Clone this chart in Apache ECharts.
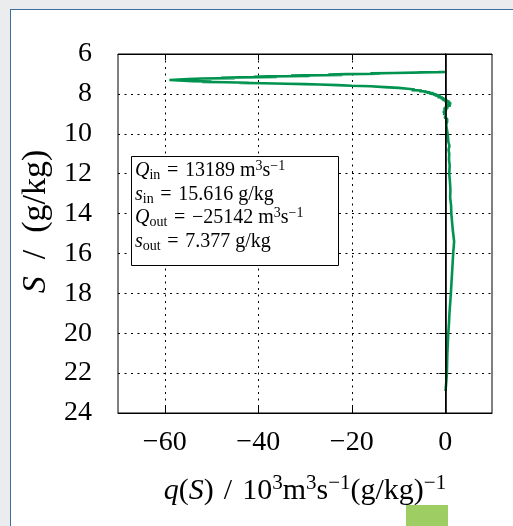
<!DOCTYPE html>
<html>
<head>
<meta charset="utf-8">
<script src="https://cdn.jsdelivr.net/npm/echarts@6/dist/echarts.min.js"></script>
<style>
  html, body { margin: 0; padding: 0; width: 513px; height: 526px; overflow: hidden; background: #ebeced; }
  #panel { position: absolute; left: 10px; top: 9px; width: 510px; height: 520px; background: #ffffff;
           border-left: 1px solid #3b6f9f; border-top: 1px solid #3b6f9f; }
  #tab { position: absolute; left: 406px; top: 505px; width: 42px; height: 21px; background: #9ecd63; }
  #chart { position: absolute; left: 0; top: 0; width: 513px; height: 526px; z-index: 2; }
</style>
</head>
<body>
<div id="panel"></div>
<div id="tab"></div>
<div id="chart"></div>
<script>
// Salinity classes S (g/kg) and the transport density q(S) (10^3 m^3 s^-1 per g/kg)
const salinity = [
  6.90, 6.91, 6.93, 6.92, 6.95, 6.97, 6.99, 7.01, 7.03, 7.05, 7.07, 7.08, 7.10, 7.12, 7.14, 7.15,
  7.17, 7.19, 7.21, 7.23, 7.26, 7.28, 7.30, 7.33, 7.36, 7.38, 7.40, 7.42, 7.44, 7.45, 7.47, 7.49,
  7.51, 7.53, 7.56, 7.59, 7.62, 7.66, 7.70, 7.74, 7.78, 7.81, 7.83, 7.86, 7.88, 7.90, 7.92, 7.94,
  7.96, 7.98, 8.00, 8.02, 8.04, 8.06, 8.08, 8.10, 8.12, 8.14, 8.16, 8.18, 8.20, 8.23, 8.25, 8.28,
  8.30, 8.33, 8.35, 8.38, 8.40, 8.43, 8.45, 8.48, 8.50, 8.53, 8.55, 8.58, 8.60, 8.63, 8.65, 8.68,
  8.70, 8.73, 8.75, 8.78, 8.80, 8.85, 8.90, 8.95, 9.00, 9.05, 9.10, 9.15, 9.20, 9.25, 9.30, 9.40,
  9.45, 9.50, 9.55, 9.60, 9.70, 9.80, 9.85, 9.90, 10.0, 10.1, 10.2, 10.3, 10.4, 10.6, 10.8, 11.0,
  11.3, 11.6, 12.0, 12.4, 12.8, 13.2, 13.6, 14.0, 14.4, 14.8, 15.1, 15.4, 15.7, 16.0, 16.4, 16.8,
  17.2, 17.6, 18.0, 18.5, 19.0, 19.5, 20.0, 20.5, 21.0, 21.5, 22.0, 22.5, 22.9
];
const transport = [
  0.0, -1.5, -6, -4, -11, -16, -14, -21, -25, -22, -30, -33, -29, -38, -41, -36,
  -44, -48, -45, -52, -55, -57, -59, -57, -54, -50, -52, -47, -42, -44, -39, -34,
  -30, -27, -23, -20, -16, -13, -10, -8, -6.5, -7.2, -5, -5.6, -4, -4.6, -3.2, -4.0,
  -2.5, -3.4, -2.8, -1.9, -2.6, -1.5, -2.2, -1.0, -1.8, -0.9, -1.6, -0.5, -1.1, -0.2, -0.8, 0.3,
  -0.6, 0.5, -0.2, 0.9, 0.2, 1.1, 0.3, 1.3, 0.4, 1.0, 0.2, 1.2, 0.5, 0.9, 0.0, 0.7,
  -0.2, 0.5, -0.4, 0.4, -0.3, 0.3, -0.5, 0.2, -0.4, 0.1, -0.3, 0.3, -0.1, 0.4, 0.0, 0.4,
  0.1, 0.5, 0.2, 0.6, 0.3, 0.7, 0.4, 0.6, 0.5, 0.75, 0.6, 0.8, 0.65, 0.9, 0.7, 0.85,
  0.8, 0.95, 0.85, 1.0, 1.1, 1.05, 1.25, 1.3, 1.45, 1.6, 1.75, 1.9, 1.8, 1.7, 1.6, 1.5,
  1.4, 1.3, 1.2, 1.05, 0.9, 0.8, 0.65, 0.55, 0.45, 0.4, 0.35, 0.2, 0.05
];

// Tick positions
const qTicks = [-60, -40, -20, 0];
const sTicks = [6, 8, 10, 12, 14, 16, 18, 20, 22, 24];

// Bulk values listed in the text box
const bulkLines = [
  ['Q', 'in', '13189 m', true],
  ['s', 'in', '15.616 g/kg', false],
  ['Q', 'out', '\u221225142 m', true],
  ['s', 'out', '7.377 g/kg', false]
];

const SERIF = "'Liberation Serif', 'DejaVu Serif', serif";
const fmtMinus = v => (v < 0 ? '\u2212' + Math.abs(v) : String(v));
const EQ = '\u2004=\u2004';

const boxText = bulkLines.map(l =>
  '{i|' + l[0] + '}{sub|' + l[1] + '}{n|' + EQ + l[2] + '}' + (l[3] ? '{sup|3}{n|s}{sup|\u22121}' : '')
).join('\n');

const chart = echarts.init(document.getElementById('chart'), null, { renderer: 'canvas' });

const tickStyle = { inside: true, length: 6, lineStyle: { color: '#000', width: 1 } };
const gridDots = { show: true, lineStyle: { color: '#000', width: 1, type: [2, 4.5] } };

chart.setOption({
  animation: false,
  backgroundColor: 'transparent',
  grid: { left: 118, top: 54, width: 374, height: 359, show: true, borderColor: '#000', borderWidth: 1, backgroundColor: 'transparent' },
  xAxis: [
    {
      type: 'value', min: -70, max: 10, position: 'bottom',
      axisLine: { show: true, lineStyle: { color: '#000', width: 1 } },
      axisTick: Object.assign({ customValues: qTicks }, tickStyle),
      axisLabel: { customValues: qTicks, formatter: fmtMinus, margin: 16, color: '#000', fontFamily: SERIF, fontSize: 28 },
      splitLine: gridDots,
      name: '{i|q}{n|(}{i|S}{n|)\u2004/\u200410}{sup|3}{n|m}{sup|3}{n|s}{sup|\u22121}{n|(g/kg)}{sup|\u22121}',
      nameLocation: 'middle', nameGap: 60,
      nameTextStyle: {
        rich: {
          n: { fontFamily: SERIF, fontSize: 30, color: '#000', lineHeight: 36, verticalAlign: 'middle' },
          i: { fontFamily: SERIF, fontSize: 30, fontStyle: 'italic', color: '#000', lineHeight: 36, verticalAlign: 'middle' },
          sup: { fontFamily: SERIF, fontSize: 21, color: '#000', lineHeight: 17, verticalAlign: 'top' }
        }
      }
    },
    {
      type: 'value', min: -70, max: 10, position: 'top',
      axisLine: { show: true, lineStyle: { color: '#000', width: 1 } },
      axisTick: Object.assign({ customValues: qTicks }, tickStyle),
      axisLabel: { show: false },
      splitLine: { show: false }
    }
  ],
  yAxis: [
    {
      type: 'value', min: 6, max: 24, inverse: true, position: 'left',
      axisLine: { show: true, lineStyle: { color: '#000', width: 1 } },
      axisTick: Object.assign({ customValues: sTicks }, tickStyle),
      axisLabel: { customValues: sTicks, margin: 26, color: '#000', fontFamily: SERIF, fontSize: 28 },
      splitLine: gridDots,
      name: '{i|S}{n|\u2002/\u2002(g/kg)}',
      nameLocation: 'middle', nameGap: 64, nameRotate: 90,
      nameTextStyle: {
        padding: [0, 0, 0, 24],
        rich: {
          n: { fontFamily: SERIF, fontSize: 34, color: '#000' },
          i: { fontFamily: SERIF, fontSize: 34, fontStyle: 'italic', color: '#000' }
        }
      }
    },
    {
      type: 'value', min: 6, max: 24, inverse: true, position: 'right',
      axisLine: { show: true, lineStyle: { color: '#000', width: 1 } },
      axisTick: Object.assign({ customValues: sTicks }, tickStyle),
      axisLabel: { show: false },
      splitLine: { show: false }
    }
  ],
  series: [
    {
      type: 'line',
      xAxisIndex: 0, yAxisIndex: 0,
      data: salinity.map((s, k) => [transport[k], s]),
      showSymbol: false,
      lineStyle: { color: '#00924f', width: 2.6 },
      markLine: {
        silent: true, symbol: 'none', label: { show: false },
        lineStyle: { color: '#000', width: 1.6, type: 'solid' },
        data: [{ xAxis: 0 }]
      },
      z: 3
    }
  ],
  graphic: [
    {
      type: 'rect', z: 10,
      shape: { x: 131.5, y: 156.5, width: 207, height: 109 },
      style: { fill: '#fff', stroke: '#000', lineWidth: 1 }
    },
    {
      type: 'text', z: 11, left: 135, top: 159,
      style: {
        text: boxText,
        rich: {
          n: { fontFamily: SERIF, fontSize: 20, color: '#000', lineHeight: 23.5, verticalAlign: 'middle' },
          i: { fontFamily: SERIF, fontSize: 20, fontStyle: 'italic', color: '#000', lineHeight: 23.5, verticalAlign: 'middle' },
          sub: { fontFamily: SERIF, fontSize: 14, color: '#000', lineHeight: 13, verticalAlign: 'bottom' },
          sup: { fontFamily: SERIF, fontSize: 14, color: '#000', lineHeight: 12, verticalAlign: 'top' }
        }
      }
    }
  ]
});
</script>
</body>
</html>
